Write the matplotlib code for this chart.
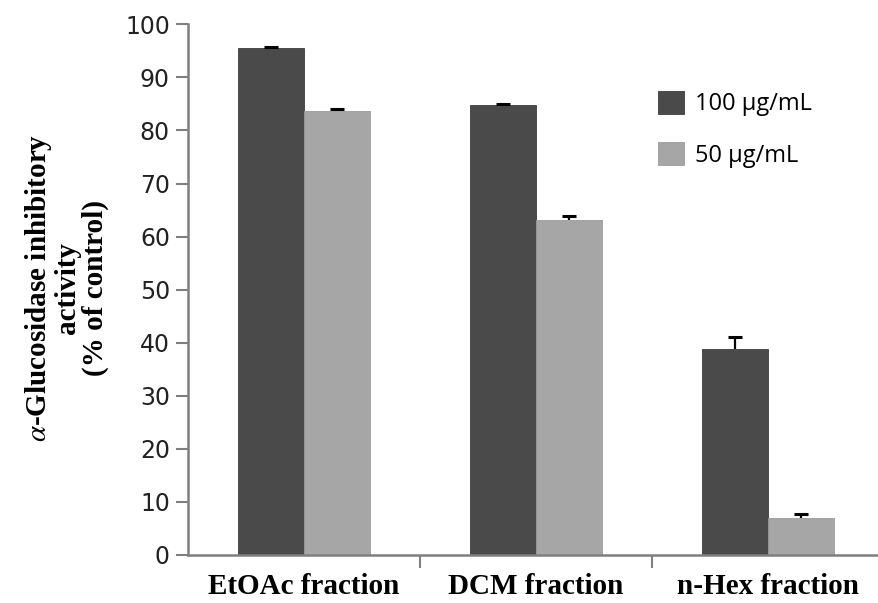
import numpy as np
import matplotlib.pyplot as plt

plt.rcParams['mathtext.fontset'] = 'stix'

# data
categories = ['EtOAc fraction', 'DCM fraction', 'n-Hex fraction']
series_names = ['100 \u00b5g/mL', '50 \u00b5g/mL']
vals_100 = [95.5, 84.7, 38.9]
vals_50 = [83.7, 63.1, 7.0]
err_100 = [0.2, 0.2, 2.1]
err_50 = [0.3, 0.8, 0.7]
yticks = [0, 10, 20, 30, 40, 50, 60, 70, 80, 90, 100]

dark = '#4a4a4a'
light = '#a6a6a6'
axis_grey = '#7f7f7f'

fig = plt.figure(figsize=(8.79, 6.03), dpi=100)
ax = fig.add_axes([188 / 879, 48 / 603, 691 / 879, 530.7 / 603])

x = np.arange(len(categories))
w = 66 / 232

ax.bar(x - w / 2, vals_100, w, color=dark, edgecolor='#3c3c3c', linewidth=0.6,
       label=series_names[0], zorder=2)
ax.bar(x + w / 2, vals_50, w, color=light, edgecolor='#9a9a9a', linewidth=0.6,
       label=series_names[1], zorder=2)

# only the upper half of each error bar, cap on top
for xs, v, e in [(x - w / 2, vals_100, err_100), (x + w / 2, vals_50, err_50)]:
    top = np.array(v) + np.array(e)
    ax.vlines(xs, v, top, color='black', linewidth=1.6, zorder=3)
    ax.scatter(xs, top, marker='_', s=110, color='black', linewidths=2.2, zorder=3)

ax.set_xlim(-0.5, -0.5 + 691 / 232)
ax.set_ylim(0, 100)
ax.set_yticks(yticks)
ax.set_yticklabels([str(t) for t in yticks], fontsize=17, family='DejaVu Sans',
                   color='#222222')

# category labels centred, tick marks on the group boundaries
ax.set_xticks([0.5, 1.5])
ax.set_xticklabels([])
ax.set_xticks(x, minor=True)
ax.set_xticklabels(categories, minor=True, fontsize=21, fontweight='bold',
                   family='Liberation Serif')
ax.tick_params(axis='x', which='minor', length=0, pad=13)
ax.tick_params(axis='x', which='major', length=9, width=1.5, color=axis_grey,
               direction='out')
ax.tick_params(axis='y', length=9, width=1.5, color=axis_grey, pad=4)

for side in ['top', 'right']:
    ax.spines[side].set_visible(False)
for side in ['left', 'bottom']:
    ax.spines[side].set_color(axis_grey)
    ax.spines[side].set_linewidth(1.8)

fig.text(0.075, 0.522, r'$\alpha$' + '-Glucosidase inhibitory\nactivity\n(% of control)',
         rotation=90, ha='center', va='center', fontsize=21, fontweight='bold',
         family='Liberation Serif', linespacing=1.0)

ax.legend(loc='upper left', bbox_to_anchor=(658 / 879, 1 - 91 / 603),
          bbox_transform=fig.transFigure, frameon=False, borderpad=0,
          borderaxespad=0, handlelength=1.1, handleheight=1.1,
          handletextpad=0.45, labelspacing=1.1,
          prop={'family': 'Open Sans', 'size': 17})

fig.savefig('out.png', dpi=100)
